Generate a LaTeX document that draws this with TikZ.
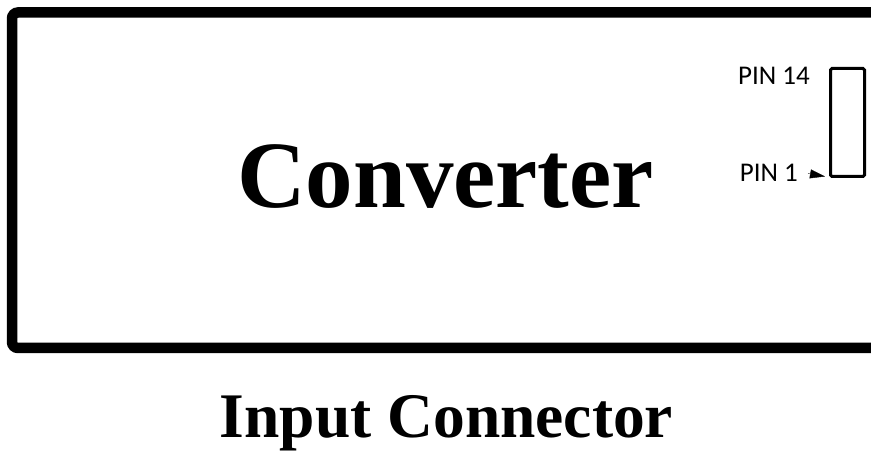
\documentclass[tikz,border=0pt]{standalone}
\usepackage{fontspec}
\setmainfont{Liberation Serif}
\newfontfamily\pinfont{Carlito}
\usetikzlibrary{arrows.meta,positioning}

\begin{document}
\begin{tikzpicture}[x=1pt, y=1pt, pin label/.style={font=\pinfont\fontsize{27}{30}\selectfont, inner sep=0, anchor=base east}, title/.style={font=\fontsize{95}{100}\selectfont\bfseries, inner sep=0, anchor=base}]
  \clip (0,0) rectangle (871,452);
  % converter housing, runs off the right edge
  \draw[line width=10.5, rounded corners=6] (12,439.5) rectangle (890,104);
  \node[title] (converter) at (445.5,244) {Converter};
  \node[title, font=\fontsize{63.5}{66}\selectfont\bfseries] (caption) at (446.5,14) {Input Connector};
  % connector
  \node[draw, line width=3, rounded corners=1.5, minimum width=34, minimum height=108, inner sep=0] (conn) at (847.5,329.5) {};
  \node[pin label] (pin14) at (810,367) {PIN 14};
  \node[pin label] (pin1) at (798,270) {PIN 1};
  \coordinate (pin1 arrow) at (808,278.5);
  \coordinate (pin1 tip) at (825,275.5);
  \draw[-{Triangle[length=15,width=9]}, line width=0.4] (pin1 arrow) -- (pin1 tip);
\end{tikzpicture}
\end{document}
